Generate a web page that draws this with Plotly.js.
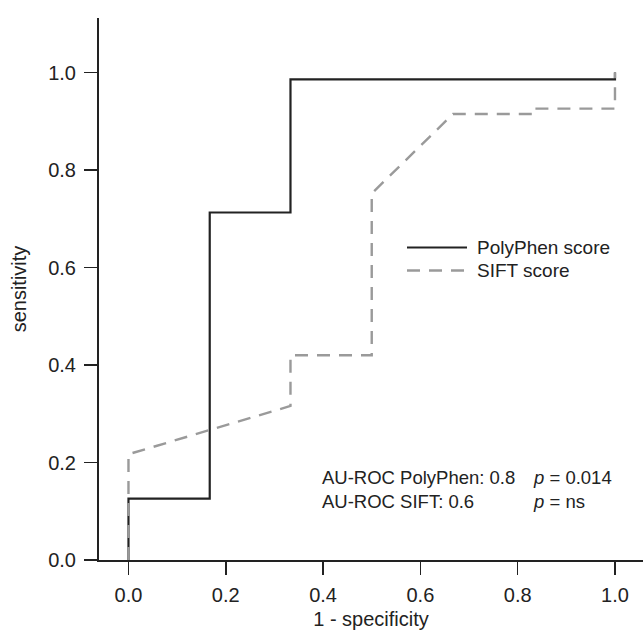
<!DOCTYPE html>
<html>
<head>
<meta charset="utf-8">
<script src="https://cdn.plot.ly/plotly-3.0.1.min.js"></script>
<style>html,body{margin:0;padding:0;background:#fff;}</style>
</head>
<body>
<div id="chart" style="width:643px;height:630px;"></div>
<script>
// PolyPhen ROC curve (1 - specificity, sensitivity)
var polyX = [0, 0, 0.167, 0.167, 0.333, 0.333, 1.0, 1.0];
var polyY = [0, 0.126, 0.126, 0.713, 0.713, 0.986, 0.986, 1.0];
// SIFT ROC curve
var siftX = [0, 0, 0.333, 0.333, 0.5, 0.5, 0.667, 0.833, 0.833, 1.0, 1.0];
var siftY = [0, 0.217, 0.316, 0.42, 0.42, 0.752, 0.915, 0.915, 0.926, 0.926, 1.0];
var seriesNames = ["PolyPhen score", "SIFT score"];
var tickVals = [0, 0.2, 0.4, 0.6, 0.8, 1.0];
var tickText = ["0.0", "0.2", "0.4", "0.6", "0.8", "1.0"];
var statRows = ["AU-ROC PolyPhen: 0.8", "AU-ROC SIFT: 0.6"];
var pRows = ["<i>p</i> = 0.014", "<i>p</i> = ns"];

var FONT = "Arial, 'Liberation Sans', Helvetica, sans-serif";
var INK = "#222222";
var GREY = "#9a9a9a";

var traces = [
  {x: polyX, y: polyY, type: "scatter", mode: "lines", name: seriesNames[0],
   line: {color: INK, width: 2.2, shape: "linear"}, showlegend: false},
  {x: siftX, y: siftY, type: "scatter", mode: "lines", name: seriesNames[1],
   line: {color: GREY, width: 2.4, dash: "13px,9px"}, showlegend: false}
];

// paper helpers (plot area: x 99..643 px, y 18..560 px)
function px(p){ return (p - 99) / 544; }
function py(p){ return (560 - p) / 542; }

var shapes = [
  {type: "line", xref: "paper", yref: "paper", x0: px(407), x1: px(467), y0: py(247.5), y1: py(247.5),
   line: {color: INK, width: 2.2}},
  {type: "line", xref: "paper", yref: "paper", x0: px(407), x1: px(467), y0: py(270.5), y1: py(270.5),
   line: {color: GREY, width: 2.4, dash: "13px,9px"}}
];

var annotations = [
  {xref: "paper", yref: "paper", x: px(475), y: py(247), text: seriesNames[0], showarrow: false,
   xanchor: "left", yanchor: "middle", font: {family: FONT, size: 19, color: INK}},
  {xref: "paper", yref: "paper", x: px(475), y: py(270), text: seriesNames[1], showarrow: false,
   xanchor: "left", yanchor: "middle", font: {family: FONT, size: 19, color: INK}},
  {xref: "paper", yref: "paper", x: px(320), y: py(477), text: statRows[0], showarrow: false,
   xanchor: "left", yanchor: "middle", font: {family: FONT, size: 18.5, color: INK}},
  {xref: "paper", yref: "paper", x: px(320), y: py(501), text: statRows[1], showarrow: false,
   xanchor: "left", yanchor: "middle", font: {family: FONT, size: 18.5, color: INK}},
  {xref: "paper", yref: "paper", x: px(531), y: py(477), text: pRows[0], showarrow: false,
   xanchor: "left", yanchor: "middle", font: {family: FONT, size: 18.5, color: INK}},
  {xref: "paper", yref: "paper", x: px(531), y: py(501), text: pRows[1], showarrow: false,
   xanchor: "left", yanchor: "middle", font: {family: FONT, size: 18.5, color: INK}}
];

var layout = {
  width: 643, height: 630,
  margin: {l: 99, r: 0, t: 18, b: 70, pad: 0},
  paper_bgcolor: "#ffffff", plot_bgcolor: "#ffffff",
  font: {family: FONT, size: 20, color: INK},
  showlegend: false,
  xaxis: {
    range: [-0.0606, 1.0576], tickvals: tickVals, ticktext: tickText,
    showgrid: false, zeroline: false, showline: true, linecolor: INK, linewidth: 2,
    ticks: "outside", ticklen: 13, tickwidth: 1.6, tickcolor: INK,
    ticklabelstandoff: 3,
    tickfont: {family: FONT, size: 20, color: INK},
    title: {text: "1 - specificity", font: {family: FONT, size: 20, color: INK}, standoff: 13}
  },
  yaxis: {
    range: [0, 1.112], tickvals: tickVals, ticktext: tickText,
    showgrid: false, zeroline: false, showline: true, linecolor: INK, linewidth: 2,
    ticks: "outside", ticklen: 13, tickwidth: 1.6, tickcolor: INK,
    ticklabelstandoff: 4,
    tickfont: {family: FONT, size: 20, color: INK},
    title: {text: "sensitivity", font: {family: FONT, size: 20, color: INK}, standoff: 16}
  },
  shapes: shapes,
  annotations: annotations
};

Plotly.newPlot("chart", traces, layout, {displayModeBar: false, staticPlot: true});
</script>
</body>
</html>
